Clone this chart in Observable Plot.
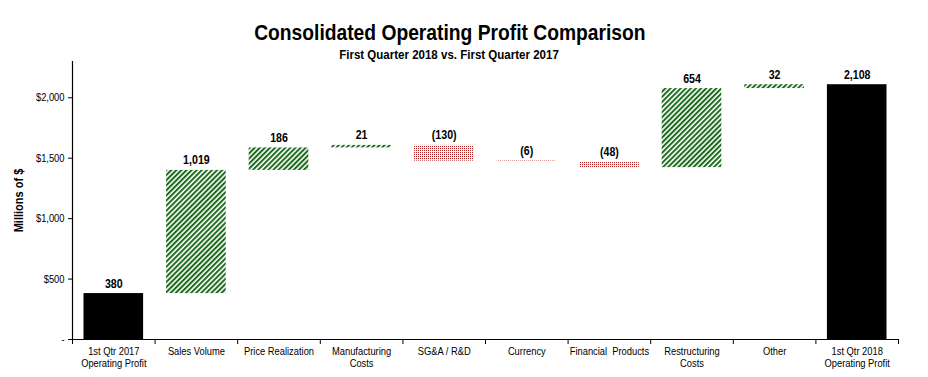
<!DOCTYPE html>
<html>
<head>
<meta charset="utf-8">
<script src="https://cdn.jsdelivr.net/npm/d3@7"></script>
<script src="https://cdn.jsdelivr.net/npm/@observablehq/plot@0.6"></script>
<style>
  html, body { margin: 0; padding: 0; background: #fff; }
  body { width: 928px; height: 377px; overflow: hidden; font-family: "Liberation Sans", Arial, sans-serif; }
  #head { position: relative; height: 60px; width: 928px; }
  #title { position: absolute; left: 0; width: 900px; top: 19px; text-align: center; font-weight: bold; font-size: 22px; line-height: 28px; color: #000; transform: scaleX(0.875); transform-origin: 449px 0; }
  #subtitle { position: absolute; left: 0; width: 898px; top: 47px; text-align: center; font-weight: bold; font-size: 13px; line-height: 16px; color: #000; transform: scaleX(0.886); transform-origin: 449px 0; }
  #chart svg { display: block; }
  #chart g[aria-label="y-axis label"] text { font-weight: bold; font-size: 13px; }
</style>
</head>
<body>
<div id="head">
  <div id="title">Consolidated Operating Profit Comparison</div>
  <div id="subtitle">First Quarter 2018 vs. First Quarter 2017</div>
</div>
<div id="chart"></div>
<script>
const categories = [
  "1st Qtr 2017\nOperating Profit",
  "Sales Volume",
  "Price Realization",
  "Manufacturing\nCosts",
  "SG&A / R&D",
  "Currency",
  "Financial  Products",
  "Restructuring\nCosts",
  "Other",
  "1st Qtr 2018\nOperating Profit"
];
const changes = [380, 1019, 186, 21, -130, -6, -48, 654, 32, 2108];
const kinds = ["total", "up", "up", "up", "down", "down", "down", "up", "up", "total"];
const valueLabels = ["380", "1,019", "186", "21", "(130)", "(6)", "(48)", "654", "32", "2,108"];
const yTicks = [0, 500, 1000, 1500, 2000];
const yTickLabels = ["-", "$500", "$1,000", "$1,500", "$2,000"];

// build waterfall table
let running = 0;
const rows = categories.map((c, i) => {
  let y1, y2;
  if (kinds[i] === "total") { y1 = 0; y2 = changes[i]; running = changes[i]; }
  else { y1 = running; y2 = running + changes[i]; running = y2; }
  return { i, cat: c, kind: kinds[i], y1, y2, top: Math.max(y1, y2), label: valueLabels[i] };
});

const fillFor = k => k === "total" ? "#000000" : k === "up" ? "url(#greenStripes)" : "url(#redDots)";

const plot = Plot.plot({
  width: 928,
  height: 317,
  marginLeft: 72,
  marginRight: 30,
  marginTop: 1,
  marginBottom: 38,
  style: { fontFamily: '"Liberation Sans", Arial, sans-serif', fontSize: "11px", color: "#000", background: "#fff" },
  x: { domain: [0, categories.length], axis: null },
  y: { domain: [0, 2300] },
  marks: [
    Plot.rectY(rows, {
      x1: d => d.i, x2: d => d.i + 1, y1: "y1", y2: "y2",
      insetLeft: 11.5, insetRight: 11.5,
      fill: d => fillFor(d.kind)
    }),
    Plot.text(rows, {
      x: d => d.i + 0.5, y: "top", text: "label",
      dy: -10, fontWeight: "bold", fontSize: 12.5, fill: "#000"
    }),
    Plot.axisY({
      ticks: yTicks,
      tickFormat: (d) => yTickLabels[yTicks.indexOf(d)],
      tickSize: 4, tickPadding: 4,
      label: "Millions of $", labelAnchor: "center", labelArrow: "none", labelOffset: 59
    }),
    Plot.axisX({
      ticks: d3.range(0, categories.length + 1),
      tickFormat: () => "",
      tickSize: 5, label: null
    }),
    Plot.ruleX([0], { stroke: "#000", strokeWidth: 1.2 }),
    Plot.ruleY([0], { stroke: "#000", strokeWidth: 1.2 }),
    Plot.text(rows, {
      x: d => d.i + 0.5, y: 0, text: "cat",
      lineAnchor: "top", dy: 7, lineHeight: 1.1, fontSize: 11, fill: "#000"
    })
  ]
});

// pattern definitions
const svgNS = "http://www.w3.org/2000/svg";
const defs = document.createElementNS(svgNS, "defs");
defs.innerHTML = `
  <pattern id="greenStripes" patternUnits="userSpaceOnUse" width="3.6" height="3.6" patternTransform="rotate(45)">
    <rect x="0" y="0" width="3.6" height="3.6" fill="#ffffff"></rect>
    <rect x="0" y="0" width="2" height="3.6" fill="#1c6b1c"></rect>
  </pattern>
  <pattern id="redDots" patternUnits="userSpaceOnUse" width="2" height="2">
    <rect x="0" y="0" width="2" height="2" fill="#ffffff"></rect>
    <rect x="0" y="0" width="1" height="1" fill="#b02020"></rect>
  </pattern>`;
plot.insertBefore(defs, plot.firstChild);

// condense text horizontally (narrow font look)
const SX = 0.85;
plot.querySelectorAll("text").forEach(el => {
  const t = el.getAttribute("transform") || "";
  const x = el.getAttribute("x");
  if (x != null && !isNaN(+x)) el.setAttribute("x", (+x) / SX);
  el.setAttribute("transform", `${t} scale(${SX},1)`);
});

document.getElementById("chart").appendChild(plot);
</script>
</body>
</html>
